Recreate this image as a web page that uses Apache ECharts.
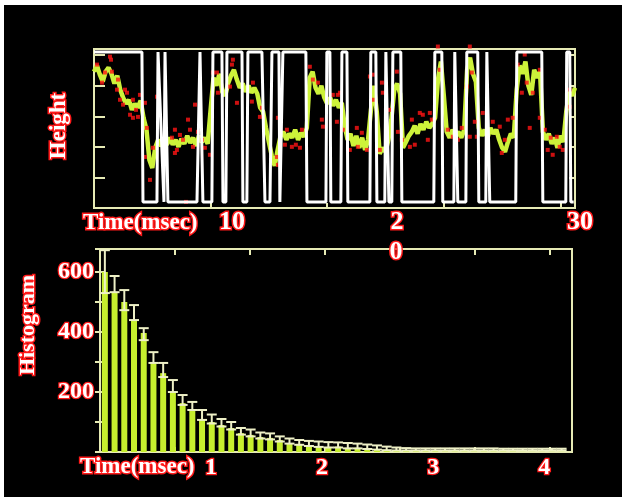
<!DOCTYPE html>
<html>
<head>
<meta charset="utf-8">
<script src="https://cdn.jsdelivr.net/npm/echarts@6/dist/echarts.min.js"></script>
<style>
  html, body { margin: 0; padding: 0; background: #fff; }
  #wrap { position: relative; width: 630px; height: 502px; overflow: hidden; background: #fff; }
  #plate { position: absolute; left: 4px; top: 5px; width: 618px; height: 492px; background: #000; }
  #chart { position: absolute; left: 0; top: 0; width: 630px; height: 502px; }
</style>
</head>
<body>
<div id="wrap"><div id="plate"></div><div id="chart"></div></div>
<script>
// ---- Upper panel: open/closed telegraph signal (msec, height) ----
const HIGH = 5.1, LOW = 0.2;
const telegraphTime = [0, 4.11, 4.20, 5.40, 5.49, 5.66, 6.00, 6.09, 6.26, 6.34,
  8.83, 9.09, 9.17, 9.34, 10.11, 10.20, 10.97, 11.06, 11.31, 11.40,
  12.69, 12.77, 13.11, 13.20, 14.40, 14.66, 15.09, 15.26, 15.86, 15.94,
  16.11, 16.20, 18.17, 18.26, 19.89, 19.97, 20.23, 20.31, 21.17, 21.26,
  21.69, 21.77, 23.66, 23.74, 24.17, 24.26, 24.94, 25.03, 25.20, 25.29,
  25.54, 25.63, 26.31, 26.40, 29.14, 29.23, 29.83, 29.91, 30.86, 30.94,
  31.11, 31.20, 31.89, 31.97, 32.91, 33.00, 33.60, 33.69, 33.86, 33.94,
  36.17, 36.26, 38.40, 38.49, 40.46, 40.54, 40.80, 40.89, 41.14];
const telegraphLevel = [HIGH, HIGH, LOW, LOW, HIGH, HIGH, LOW, HIGH, HIGH, LOW,
  LOW, HIGH, HIGH, LOW, LOW, HIGH, HIGH, LOW, LOW, HIGH,
  HIGH, LOW, LOW, HIGH, HIGH, LOW, LOW, HIGH, HIGH, LOW,
  LOW, HIGH, HIGH, LOW, LOW, HIGH, HIGH, LOW, LOW, HIGH,
  HIGH, LOW, LOW, HIGH, HIGH, LOW, LOW, HIGH, HIGH, LOW,
  LOW, HIGH, HIGH, LOW, LOW, HIGH, HIGH, LOW, LOW, HIGH,
  HIGH, LOW, LOW, HIGH, HIGH, LOW, LOW, HIGH, HIGH, LOW,
  LOW, HIGH, HIGH, LOW, LOW, HIGH, HIGH, LOW, LOW];

// Filtered height trace, sampled every 0.25 msec
const traceStep = 0.25;
const traceHeight = [4.46, 4.66, 4.36, 4.13, 4.46, 4.59, 4.39, 4.07, 4.33, 3.87,
  3.61, 3.41, 3.54, 3.21, 3.41, 3.28, 3.51, 2.95, 2.56, 1.57,
  1.31, 1.97, 2.23, 2.03, 2.16, 2.07, 2.30, 2.07, 2.23, 2.00,
  2.26, 2.10, 2.36, 2.13, 2.30, 2.03, 2.36, 2.16, 2.30, 2.10,
  3.21, 4.26, 4.00, 4.39, 3.80, 3.67, 4.07, 4.33, 4.52, 4.20,
  3.93, 4.07, 3.80, 4.00, 3.77, 3.93, 3.74, 3.28, 3.15, 2.62,
  2.16, 1.70, 1.38, 1.90, 2.36, 2.49, 2.23, 2.43, 2.30, 2.56,
  2.23, 2.46, 2.33, 2.62, 4.26, 4.46, 3.93, 3.74, 4.00, 3.61,
  3.41, 3.61, 3.34, 3.54, 3.28, 3.44, 2.69, 2.23, 2.43, 2.03,
  2.36, 1.97, 2.30, 1.90, 2.23, 3.21, 4.00, 3.15, 1.77, 1.97,
  1.84, 2.23, 2.89, 3.87, 4.07, 3.74, 1.97, 2.16, 2.36, 2.49,
  2.69, 2.43, 2.75, 2.56, 2.82, 2.62, 2.75, 2.95, 4.20, 4.79,
  3.67, 2.49, 2.30, 2.56, 2.36, 2.49, 2.30, 2.56, 4.52, 4.92,
  4.39, 4.13, 2.62, 2.36, 2.56, 2.30, 2.62, 2.43, 2.56, 2.23,
  1.97, 1.84, 2.16, 2.43, 2.30, 3.87, 4.66, 4.39, 4.79, 4.00,
  3.70, 4.52, 4.26, 4.46, 2.49, 2.23, 2.43, 2.10, 2.30, 1.97,
  2.36, 2.16, 3.15, 3.80, 3.67, 3.93];

// Raw (unfiltered) samples [msec, height]
const rawPoints = [[0.26,4.69],[1.37,4.95],[1.46,4.85],[0.69,4.10],[0.94,4.43],[2.06,4.20],[1.97,3.87],
  [2.66,3.87],[2.83,3.77],[2.49,3.38],[3.34,3.54],[3.94,3.70],[3.09,3.05],[3.34,2.95],[3.77,2.98],
  [4.37,3.44],[4.54,2.62],[4.37,1.67],[4.80,0.92],[5.06,1.97],[5.40,3.64],[8.06,2.89],[6.69,2.30],
  [7.11,1.90],[7.63,2.23],[8.23,2.56],[8.49,2.00],[6.94,1.80],[7.89,0.20],[8.66,3.38],[9.26,2.23],
  [9.51,1.97],[9.94,1.74],[10.54,4.43],[10.63,3.77],[11.91,4.85],[11.83,4.69],[11.66,3.97],[12.26,3.44],
  [10.20,4.43],[13.63,4.10],[13.54,3.48],[14.23,2.98],[14.40,3.28],[15.77,2.95],[15.69,1.67],[15.77,1.41],
  [16.54,2.56],[16.97,2.00],[17.83,2.56],[18.51,4.62],[18.77,4.20],[19.20,4.10],[19.54,2.89],[19.63,2.66],
  [20.48,3.70],[20.91,3.70],[20.83,2.82],[21.09,3.77],[21.34,2.56],[22.54,2.62],[22.63,2.00],[23.40,1.90],
  [23.66,4.30],[23.91,4.36],[23.91,3.54],[24.69,4.10],[24.77,3.77],[24.51,1.90],[25.37,3.21],[25.97,4.46],
  [26.06,2.49],[26.40,2.23],[27.26,2.89],[27.94,3.11],[28.20,3.05],[28.80,3.11],[27.09,2.00],[28.63,2.23],
  [29.49,5.28],[29.66,4.52],[30.34,2.56],[30.77,2.33],[31.97,3.97],[32.23,5.28],[32.40,4.43],[32.23,2.33],
  [32.66,2.82],[32.83,2.33],[33.34,3.11],[34.20,2.82],[34.80,2.66],[34.97,1.80],[35.49,2.89],[35.91,2.95],
  [36.34,4.69],[36.69,3.77],[36.94,5.02],[37.11,4.10],[37.37,2.62],[37.63,3.77],[38.23,4.52],[38.23,2.95],
  [38.66,2.56],[38.91,1.90],[39.34,1.74],[39.69,2.33],[39.94,2.00],[40.80,3.87],[40.80,3.31],[6.94,2.56],
  [7.37,2.39],[8.91,2.49],[16.37,2.07],[17.31,2.07],[17.66,1.97],[21.94,1.90],[22.97,2.46],[27.51,2.07],
  [28.97,2.89],[31.20,2.23],[31.54,2.62],[33.77,2.16],[35.23,2.23],[39.17,2.30],[40.20,1.90],[1.54,4.46],
  [2.23,3.54],[3.60,3.21]];

// ---- Lower panel: dwell-time histogram ----
const binWidth = 0.0875; // msec
const histCounts = [600, 530, 500, 440, 397, 300, 263, 200, 163, 140,
  107, 100, 90, 80, 63, 57, 50, 47, 40, 30,
  27, 23, 20, 17, 18, 14, 14, 12, 10, 6,
  5, 4, 3, 3, 3, 2, 2, 2, 2, 2,
  2, 2, 2, 1, 1, 1, 1, 1];
const errHigh = [673, 587, 540, 490, 413, 333, 297, 240, 190, 167,
  140, 125, 110, 100, 80, 75, 65, 62, 52, 45,
  40, 37, 35, 33, 32, 30, 28, 25, 22, 18,
  15, 13, 12, 12, 12, 12, 12, 12, 12, 12,
  12, 11, 11, 11, 11, 11, 11, 11];
const errLow = [530, 533, 473, 440, 373, 297, 250, 200, 157, 140,
  107, 95, 85, 75, 58, 52, 45, 42, 35, 28,
  24, 20, 17, 15, 15, 12, 12, 10, 8, 6,
  5, 5, 5, 5, 5, 5, 5, 5, 5, 5,
  5, 5, 5, 5, 5, 5, 5, 5];

const histLabelValues = [200, 400, 600];
const timeLabelValues = [1, 2, 3, 4];

// ---- Titles and stray tick text ----
const heightTitle = 'Height';
const histTitle = 'Histogram';
const timeTitle = 'Time(msec)';
const upperTickTexts = ['10', '2', '30'];
const upperStrayText = '0';

const FRAME = '#e6eab4';
const TRACE = '#cdf23a';
const DOT = '#ff1414';
const BAR = '#c6ee2e';
const ERR = '#eef0c6';
const RED = '#ff1a1a';

const labelStyle = {
  color: '#ffffff', fontFamily: 'Liberation Serif', fontWeight: 'bold',
  textBorderColor: RED, textBorderWidth: 2.5,
  textShadowColor: '#e00000', textShadowOffsetX: 1, textShadowOffsetY: 1, textShadowBlur: 0
};
function textEl(str, x, y, size, opts) {
  return Object.assign({
    type: 'text', x: x, y: y, z: 50,
    style: {
      text: str, fill: '#ffffff', stroke: RED, lineWidth: 3,
      font: 'bold ' + size + 'px "Liberation Serif"',
      align: 'center', verticalAlign: 'middle'
    }
  }, opts || {});
}

const telegraphData = telegraphTime.map((t, i) => [t, telegraphLevel[i]]);
const traceData = traceHeight.map((h, i) => [i * traceStep, h]);
const barData = histCounts.map((c, i) => [(i + 0.5) * binWidth, c]);
const errData = histCounts.map((c, i) => [(i + 0.5) * binWidth, errLow[i], errHigh[i]]);

const chart = echarts.init(document.getElementById('chart'), null, { renderer: 'canvas' });

const hiddenLine = { show: false };
const noSplit = { show: false };

chart.setOption({
  backgroundColor: 'transparent',
  animation: false,
  grid: [
    { left: 94, top: 49, width: 481, height: 159, show: true, borderColor: FRAME, borderWidth: 2, backgroundColor: 'transparent' },
    { left: 100, top: 249, width: 472, height: 203, show: true, borderColor: FRAME, borderWidth: 2, backgroundColor: 'transparent' }
  ],
  xAxis: [
    { gridIndex: 0, type: 'value', min: 0, max: 41.25, interval: 10, position: 'bottom',
      axisLine: hiddenLine, splitLine: noSplit, axisLabel: { show: false },
      axisTick: { show: true, inside: true, length: 5, lineStyle: { color: FRAME, width: 2 } } },
    { gridIndex: 1, type: 'value', min: 0, max: 4.25, interval: 1, position: 'bottom',
      axisLine: hiddenLine, splitLine: noSplit, axisTick: { show: false },
      axisLabel: Object.assign({ fontSize: 24, margin: 4,
        formatter: v => (timeLabelValues.indexOf(v) >= 0 ? String(v) : '') }, labelStyle) },
    { gridIndex: 1, type: 'value', min: 0, max: 4.25, interval: 0.675, position: 'bottom',
      axisLine: hiddenLine, splitLine: noSplit, axisLabel: { show: false },
      axisTick: { show: true, inside: true, length: 5, lineStyle: { color: FRAME, width: 2 } } },
    { gridIndex: 1, type: 'value', min: 0, max: 4.25, interval: 0.675, position: 'top',
      axisLine: hiddenLine, splitLine: noSplit, axisLabel: { show: false },
      axisTick: { show: true, inside: true, length: 6, lineStyle: { color: FRAME, width: 2 } } }
  ],
  yAxis: [
    { gridIndex: 0, type: 'value', min: 0, max: 5.2, interval: 1, position: 'left',
      axisLine: hiddenLine, splitLine: noSplit, axisLabel: { show: false },
      axisTick: { show: true, inside: true, length: 11, lineStyle: { color: FRAME, width: 2 } } },
    { gridIndex: 0, type: 'value', min: 0, max: 5.2, interval: 1, position: 'right',
      axisLine: hiddenLine, splitLine: noSplit, axisLabel: { show: false },
      axisTick: { show: true, inside: true, length: 6, lineStyle: { color: FRAME, width: 2 } } },
    { gridIndex: 1, type: 'value', min: 0, max: 677, interval: 100, position: 'left',
      axisLine: hiddenLine, splitLine: noSplit,
      axisTick: { show: true, inside: true, length: 5, lineStyle: { color: FRAME, width: 2 } },
      axisLabel: Object.assign({ fontSize: 24, margin: 6,
        formatter: v => (histLabelValues.indexOf(v) >= 0 ? String(v) : '') }, labelStyle) },
    { gridIndex: 1, type: 'value', min: 0, max: 677, interval: 100, position: 'right',
      axisLine: hiddenLine, splitLine: noSplit, axisLabel: { show: false },
      axisTick: { show: true, inside: true, length: 5, lineStyle: { color: FRAME, width: 2 } } }
  ],
  series: [
    { type: 'line', name: 'trace', xAxisIndex: 0, yAxisIndex: 0, data: traceData,
      showSymbol: false, symbol: 'none', lineStyle: { color: TRACE, width: 4.5 }, z: 3 },
    { type: 'scatter', name: 'raw', xAxisIndex: 0, yAxisIndex: 0, data: rawPoints,
      symbol: 'rect', symbolSize: 4, itemStyle: { color: DOT }, clip: false, z: 4 },
    { type: 'line', name: 'state', xAxisIndex: 0, yAxisIndex: 0, data: telegraphData,
      showSymbol: false, symbol: 'none', lineStyle: { color: '#ffffff', width: 3 }, z: 5 },
    { type: 'bar', name: 'counts', xAxisIndex: 1, yAxisIndex: 2, data: barData,
      barWidth: 6, itemStyle: { color: BAR }, z: 3 },
    { type: 'custom', name: 'error', xAxisIndex: 1, yAxisIndex: 2, data: errData,
      encode: { x: 0, y: [1, 2] }, z: 4,
      renderItem: function (params, api) {
        const x = api.value(0);
        const pLo = api.coord([x, api.value(1)]);
        const pHi = api.coord([x, api.value(2)]);
        const hw = 5;
        const st = { stroke: ERR, lineWidth: 2 };
        return { type: 'group', children: [
          { type: 'line', shape: { x1: pLo[0], y1: pHi[1], x2: pLo[0], y2: pLo[1] }, style: st },
          { type: 'line', shape: { x1: pLo[0] - hw, y1: pHi[1], x2: pLo[0] + hw, y2: pHi[1] }, style: st },
          { type: 'line', shape: { x1: pLo[0] - hw, y1: pLo[1], x2: pLo[0] + hw, y2: pLo[1] }, style: st }
        ] };
      } }
  ],
  graphic: [
    textEl(heightTitle, 59, 126, 23, { rotation: Math.PI / 2 }),
    textEl(histTitle, 28, 325, 22, { rotation: Math.PI / 2 }),
    textEl(timeTitle, 83, 223, 23, { style: { text: timeTitle, fill: '#fff', stroke: RED, lineWidth: 3,
      font: 'bold 23px "Liberation Serif"', align: 'left', verticalAlign: 'middle' } }),
    textEl(upperTickTexts[0], 232, 222, 26),
    textEl(upperTickTexts[1], 397, 222, 26),
    textEl(upperTickTexts[2], 580, 222, 26),
    textEl(upperStrayText, 396, 252, 26),
    textEl(timeTitle, 80, 467, 23, { style: { text: timeTitle, fill: '#fff', stroke: RED, lineWidth: 3,
      font: 'bold 23px "Liberation Serif"', align: 'left', verticalAlign: 'middle' } })
  ]
});
</script>
</body>
</html>
